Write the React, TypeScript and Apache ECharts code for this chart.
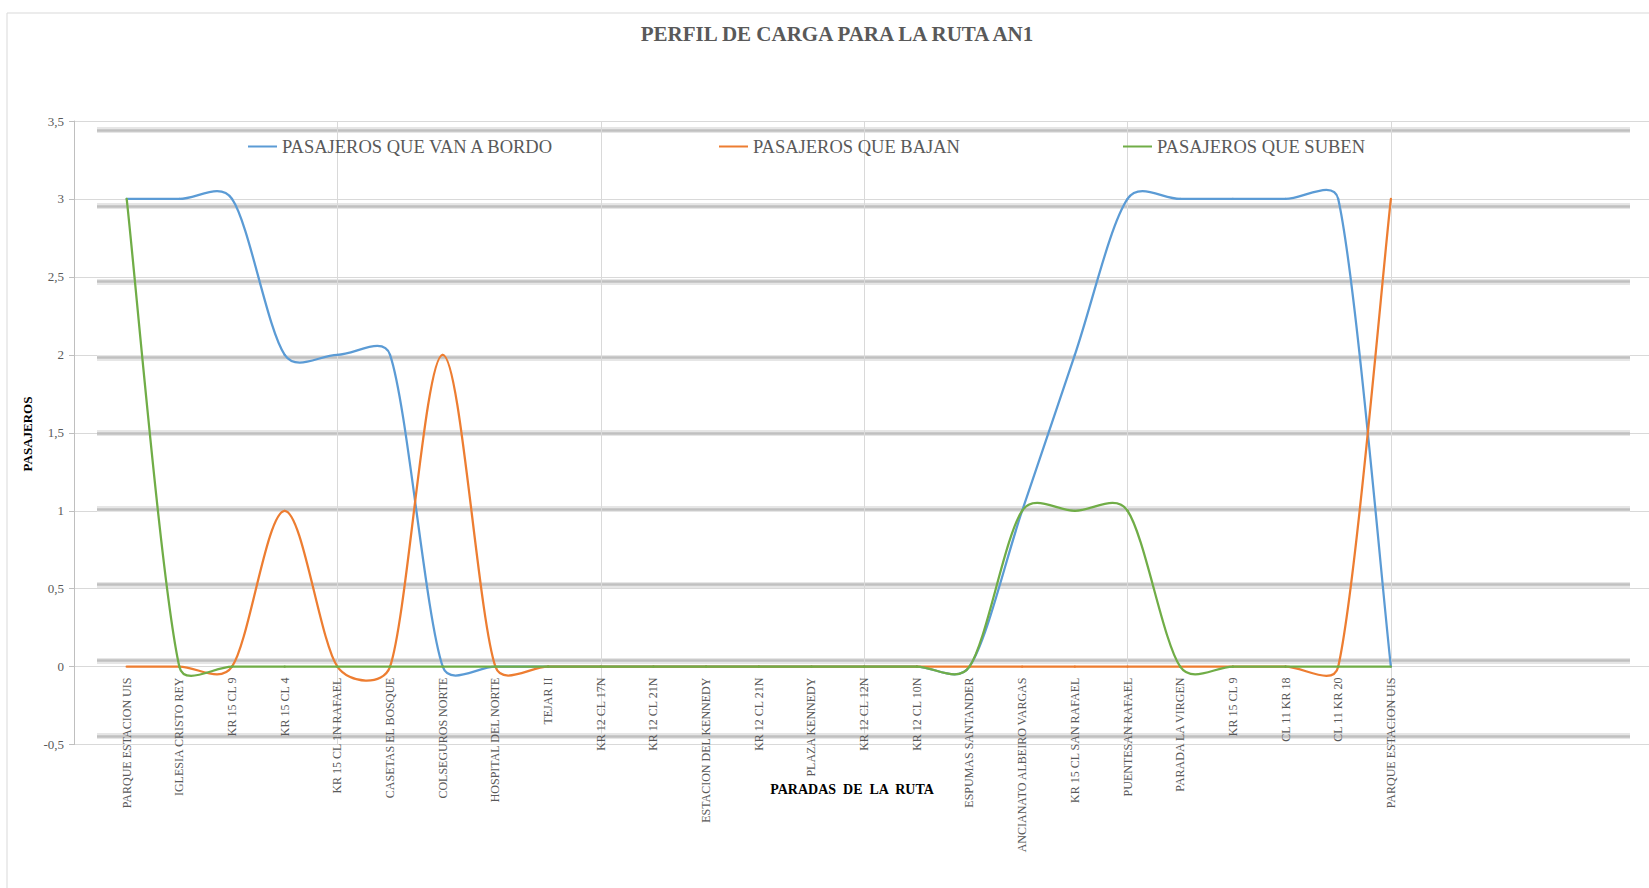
import React, { useEffect, useRef } from "react";
import * as echarts from "echarts";

const stops = [
  "PARQUE ESTACION UIS",
  "IGLESIA CRISTO REY",
  "KR 15 CL 9",
  "KR 15 CL 4",
  "KR 15 CL 1N RAFAEL",
  "CASETAS EL BOSQUE",
  "COLSEGUROS NORTE",
  "HOSPITAL DEL NORTE",
  "TEJAR II",
  "KR 12 CL 17N",
  "KR 12 CL 21N",
  "ESTACION DEL KENNEDY",
  "KR 12 CL 21N",
  "PLAZA KENNEDY",
  "KR 12 CL 12N",
  "KR 12 CL 10N",
  "ESPUMAS SANTANDER",
  "ANCIANATO ALBEIRO VARGAS",
  "KR 15 CL SAN RAFAEL",
  "PUENTESAN RAFAEL",
  "PARADA LA VIRGEN",
  "KR 15 CL 9",
  "CL 11 KR 18",
  "CL 11 KR 20",
  "PARQUE ESTACION UIS",
];

const aBordo = [3, 3, 3, 2, 2, 2, 0, 0, 0, 0, 0, 0, 0, 0, 0, 0, 0, 1, 2, 3, 3, 3, 3, 3, 0];
const bajan = [0, 0, 0, 1, 0, 0, 2, 0, 0, 0, 0, 0, 0, 0, 0, 0, 0, 0, 0, 0, 0, 0, 0, 0, 3];
const suben = [3, 0, 0, 0, 0, 0, 0, 0, 0, 0, 0, 0, 0, 0, 0, 0, 0, 1, 1, 1, 0, 0, 0, 0, 0];

const yTicks = { min: -0.5, max: 3.5, interval: 0.5 };

const SERIF = "'Liberation Serif', 'Times New Roman', serif";

// Excel-like smoothed line: Catmull-Rom (1/6) control vectors, limited relative to the segment length
function smoothSeries(name: string, arr: number[], color: string) {
  return {
    name,
    type: "custom",
    coordinateSystem: "cartesian2d",
    xAxisIndex: 0,
    yAxisIndex: 0,
    data: arr.map((v, i) => [i + 1, v]),
    encode: { x: 0, y: 1 },
    itemStyle: { color },
    renderItem: (params: any, api: any) => {
      const i = params.dataIndex;
      const n = arr.length;
      if (i >= n - 1) return null;
      const P = (j: number) => api.coord([j + 1, arr[j]]);
      const p0 = P(i);
      const p1 = P(i + 1);
      const pm = i > 0 ? P(i - 1) : p0;
      const p2 = i + 2 < n ? P(i + 2) : p1;
      const seg = Math.hypot(p1[0] - p0[0], p1[1] - p0[1]);
      const ctrl = (a: number[], b: number[]) => {
        const dx = b[0] - a[0];
        const dy = b[1] - a[1];
        const l = Math.hypot(dx, dy);
        if (l === 0) return [0, 0];
        let m = l / 6;
        if (m > seg * 0.4) m = seg * 0.4;
        return [(dx / l) * m, (dy / l) * m];
      };
      const v0 = ctrl(pm, p1);
      const v1 = ctrl(p0, p2);
      return {
        type: "bezierCurve",
        shape: {
          x1: p0[0],
          y1: p0[1],
          x2: p1[0],
          y2: p1[1],
          cpx1: p0[0] + v0[0],
          cpy1: p0[1] + v0[1],
          cpx2: p1[0] - v1[0],
          cpy2: p1[1] - v1[1],
        },
        style: { stroke: color, lineWidth: 2.25, fill: "none", lineCap: "round" },
      };
    },
  };
}

export default function App() {
  const ref = useRef<HTMLDivElement>(null);

  useEffect(() => {
    if (!ref.current) return;
    const chart = echarts.init(ref.current, undefined, { renderer: "svg" });
    const legendBase = {
      top: 132,
      icon: "rect",
      itemWidth: 29,
      itemHeight: 2,
      textStyle: { fontFamily: SERIF, fontSize: 18.5, color: "#595959" },
    };
    chart.setOption({
      animation: false,
      backgroundColor: "#ffffff",
      title: {
        text: "PERFIL DE CARGA PARA LA RUTA AN1",
        left: 832,
        top: 18,
        textAlign: "center",
        textStyle: { fontFamily: SERIF, fontSize: 21, fontWeight: "bold", color: "#595959" },
      },
      legend: [
        { ...legendBase, left: 243, data: ["PASAJEROS QUE VAN A BORDO"] },
        { ...legendBase, left: 714, data: ["PASAJEROS QUE BAJAN"] },
        { ...legendBase, left: 1118, data: ["PASAJEROS QUE SUBEN"] },
      ],
      graphic: [
        {
          type: "rect",
          z: -10,
          silent: true,
          shape: { x: 7, y: 13, width: 1700, height: 900 },
          style: { fill: "none", stroke: "#d9d9d9", lineWidth: 1 },
        },
        {
          type: "text",
          x: 27,
          y: 434,
          rotation: Math.PI / 2,
          style: {
            text: "PASAJEROS",
            font: `bold 13px ${SERIF}`,
            fill: "#000000",
            align: "center",
            verticalAlign: "middle",
          },
        },
        {
          type: "text",
          x: 852,
          y: 789,
          style: {
            text: "PARADAS  DE  LA  RUTA",
            font: `bold 14px ${SERIF}`,
            fill: "#000000",
            align: "center",
            verticalAlign: "middle",
          },
        },
      ],
      grid: [
        { left: 74, right: 0, top: 121, bottom: 143.4, outerBoundsMode: "none", containLabel: false },
        { left: 97, right: 19, top: 130, bottom: 152, outerBoundsMode: "none", containLabel: false },
      ],
      xAxis: [
        {
          type: "value",
          gridIndex: 0,
          min: 0,
          max: 29.9,
          interval: 1,
          offset: -78,
          axisLine: { show: false, onZero: false },
          axisTick: { show: false },
          splitLine: { show: false },
          axisLabel: {
            rotate: 90,
            margin: 11,
            fontFamily: SERIF,
            fontSize: 12,
            color: "#595959",
            showMaxLabel: false,
            formatter: (v: number) =>
              Number.isInteger(v) && v >= 1 && v <= stops.length ? stops[v - 1] : "",
          },
        },
        {
          type: "value",
          gridIndex: 0,
          position: "top",
          min: 0,
          max: 29.9,
          interval: 5,
          axisLine: { show: false },
          axisTick: { show: false },
          axisLabel: { show: false },
          splitLine: { show: true, lineStyle: { color: "#d9d9d9", width: 1 } },
        },
        {
          type: "value",
          gridIndex: 1,
          show: false,
          min: 0,
          max: 1,
        },
      ],
      yAxis: [
        {
          type: "value",
          gridIndex: 0,
          min: yTicks.min,
          max: yTicks.max,
          interval: yTicks.interval,
          axisLine: { show: true, onZero: false, lineStyle: { color: "#bfbfbf" } },
          axisTick: { show: true, inside: false, length: 5, lineStyle: { color: "#bfbfbf" } },
          splitLine: { show: true, lineStyle: { color: "#d9d9d9", width: 1 } },
          axisLabel: {
            margin: 10,
            fontFamily: SERIF,
            fontSize: 13,
            color: "#595959",
            formatter: (v: number) => String(v).replace(".", ","),
          },
        },
        {
          type: "value",
          gridIndex: 1,
          min: yTicks.min,
          max: yTicks.max,
          interval: yTicks.interval,
          axisLine: { show: false },
          axisTick: { show: false },
          axisLabel: { show: false },
          splitLine: { show: true, lineStyle: { color: "#e6e6e6", width: 6 } },
        },
        {
          type: "value",
          gridIndex: 1,
          min: yTicks.min,
          max: yTicks.max,
          interval: yTicks.interval,
          axisLine: { show: false },
          axisTick: { show: false },
          axisLabel: { show: false },
          splitLine: { show: true, lineStyle: { color: "#c0c0c0", width: 2.5 } },
        },
      ],
      series: [
        smoothSeries("PASAJEROS QUE VAN A BORDO", aBordo, "#5B9BD5"),
        smoothSeries("PASAJEROS QUE BAJAN", bajan, "#ED7D31"),
        smoothSeries("PASAJEROS QUE SUBEN", suben, "#70AD47"),
      ],
    });
    return () => chart.dispose();
  }, []);

  return (
    <div
      ref={ref}
      style={{ position: "fixed", left: 0, top: 0, width: 1649, height: 888 }}
    />
  );
}
